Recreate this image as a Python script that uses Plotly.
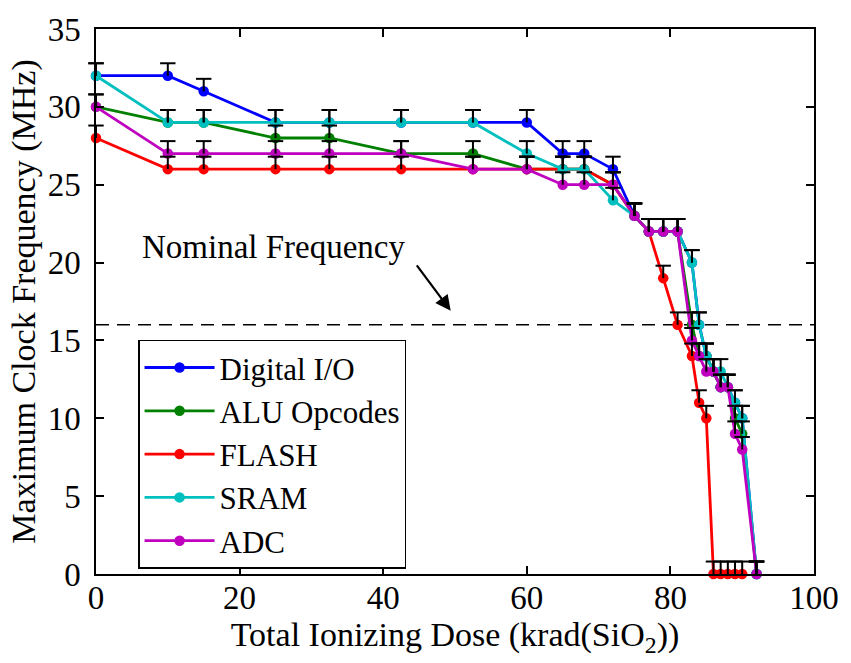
import plotly.graph_objects as go

# Total ionizing dose steps (krad(SiO2))
dose_full = [0, 10, 15, 25, 32.5, 42.5, 52.5, 60, 65, 68, 72, 75, 77, 79, 81,
             83, 84, 85, 86, 87, 88, 89, 90, 92]
dose_flash = [0, 10, 15, 25, 32.5, 42.5, 52.5, 60, 65, 68, 72, 75, 77, 79, 81,
              83, 84, 85, 86, 87, 88, 89, 90]

# Maximum clock frequency (MHz) for each test
digital_io = [32, 32, 31, 29, 29, 29, 29, 29, 27, 27, 26, 23, 22, 22, 22,
              20, 16, 14, 13, 12, 12, 11, 10, 0]
alu_opcodes = [30, 29, 29, 28, 28, 27, 27, 26, 26, 26, 25, 23, 22, 22, 22,
               16, 14, 14, 13, 12, 12, 10, 9, 0]
flash = [28, 26, 26, 26, 26, 26, 26, 26, 26, 26, 25, 23, 22, 19, 16,
         14, 11, 10, 0, 0, 0, 0, 0]
sram = [32, 29, 29, 29, 29, 29, 29, 27, 26, 26, 24, 23, 22, 22, 22,
        20, 16, 14, 13, 13, 12, 11, 10, 0]
adc = [30, 27, 27, 27, 27, 27, 26, 26, 25, 25, 25, 23, 22, 22, 22,
       15, 14, 13, 13, 12, 12, 9, 8, 0]

# Upper measurement uncertainty (MHz)
err_up = 0.8
nominal_freq = 16

series = [
    ("Digital I/O", dose_full, digital_io, "rgb(0,0,255)"),
    ("ALU Opcodes", dose_full, alu_opcodes, "rgb(0,128,0)"),
    ("FLASH", dose_flash, flash, "rgb(255,0,0)"),
    ("SRAM", dose_full, sram, "rgb(0,191,191)"),
    ("ADC", dose_full, adc, "rgb(191,0,191)"),
]

FONT = "Liberation Serif"

fig = go.Figure()

# nominal frequency reference line
fig.add_trace(go.Scatter(
    x=[0, 100], y=[nominal_freq, nominal_freq], mode="lines",
    line=dict(color="black", width=1.5, dash="13px,8px"),
    showlegend=False, hoverinfo="skip", cliponaxis=False,
))

for name, xs, ys, color in series:
    fig.add_trace(go.Scatter(
        x=xs, y=ys, name=name, mode="lines+markers",
        line=dict(color=color, width=2.8),
        marker=dict(color=color, size=10.5, symbol="circle"),
        cliponaxis=False,
    ))

# black error bars (upper side) drawn over all series
for name, xs, ys, color in series:
    fig.add_trace(go.Scatter(
        x=xs, y=ys, mode="markers",
        marker=dict(size=1, color="rgba(0,0,0,0)"),
        error_y=dict(type="data", symmetric=False,
                     array=[err_up] * len(ys), arrayminus=[0] * len(ys),
                     color="black", thickness=2, width=0),
        showlegend=False, hoverinfo="skip", cliponaxis=False,
    ))
    fig.add_trace(go.Scatter(
        x=xs, y=[v + err_up for v in ys], mode="markers",
        marker=dict(symbol="line-ew", size=11,
                    line=dict(color="black", width=2)),
        showlegend=False, hoverinfo="skip", cliponaxis=False,
    ))

fig.add_annotation(
    x=24.8, y=21.0, xref="x", yref="y", text="Nominal Frequency",
    showarrow=False, font=dict(family=FONT, size=33, color="black"),
)
fig.add_annotation(
    x=49.4, y=16.9, xref="x", yref="y", text="",
    showarrow=True, arrowhead=2, arrowsize=1.4, arrowwidth=2.2,
    arrowcolor="black", ax=-35, ay=-47,
)

axis_common = dict(
    showgrid=False, zeroline=False, showline=True, linecolor="black",
    linewidth=1.5, mirror="ticks", ticks="inside", ticklen=8,
    tickwidth=1.5, tickcolor="black",
    tickfont=dict(family=FONT, size=33, color="black"),
)

fig.update_xaxes(
    range=[0, 100], tickvals=[0, 20, 40, 60, 80, 100],
    ticklabelstandoff=-6,
    title=dict(text="Total Ionizing Dose (krad(SiO<sub>2</sub>))",
               font=dict(family=FONT, size=34, color="black"), standoff=0),
    **axis_common,
)
fig.update_yaxes(
    range=[0, 35], tickvals=[0, 5, 10, 15, 20, 25, 30, 35],
    ticklabelstandoff=7,
    title=dict(text="Maximum Clock Frequency (MHz)",
               font=dict(family=FONT, size=34, color="black"), standoff=2),
    **axis_common,
)

fig.update_layout(
    width=851, height=663,
    margin=dict(l=96, r=28, t=18, b=89),
    plot_bgcolor="white", paper_bgcolor="white",
    font=dict(family=FONT, size=33, color="black"),
    legend=dict(
        x=0.059, y=0.43, xanchor="left", yanchor="top",
        bgcolor="white", bordercolor="black", borderwidth=1.2,
        font=dict(family=FONT, size=31, color="black"),
        itemwidth=70,
    ),
)

fig.write_html("out.html")
